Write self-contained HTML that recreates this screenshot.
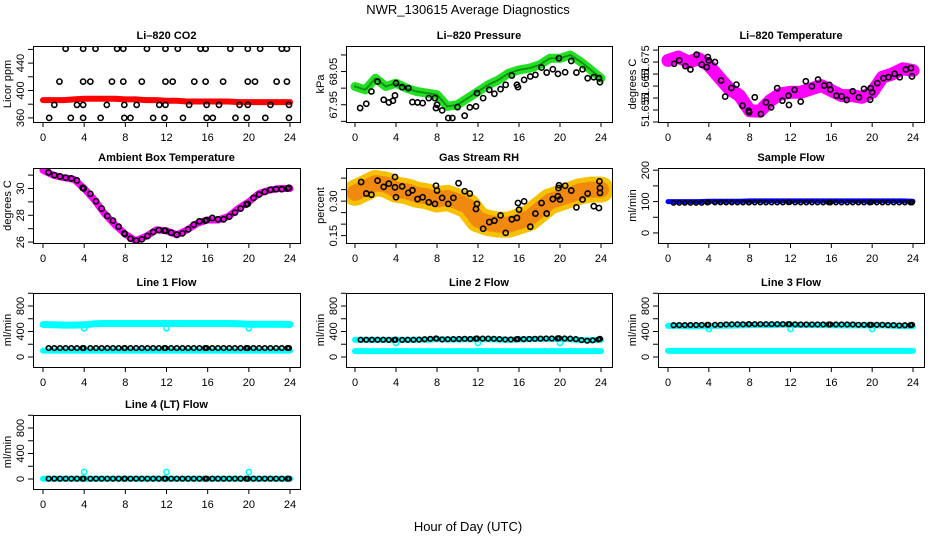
<!DOCTYPE html>
<html><head><meta charset="utf-8"><style>
html,body{margin:0;padding:0;background:#fff}
svg{display:block;font-family:"Liberation Sans",Arial,sans-serif}
</style></head><body>
<svg id="chart" width="936" height="540" viewBox="0 0 936 540" xmlns="http://www.w3.org/2000/svg">
<rect width="936" height="540" fill="#fff"/>
<text x="468" y="14" font-size="13" text-anchor="middle">NWR_130615  Average Diagnostics</text>
<text x="468" y="531" font-size="13" text-anchor="middle">Hour of Day (UTC)</text>
</svg>
<script>
// ---------- data ----------
const hourly = [0,1,2,3,4,5,6,7,8,9,10,11,12,13,14,15,16,17,18,19,20,21,22,23,24];
const co2Red = [386,386,386,387,388,388,388,388,387,387,386,386,385,385,384,384,384,384,384,383,383,383,383,383,383];
const co2Hours = [2.2,3.9,5.1,7.2,7.8,10.1,11.9,13.1,15.3,15.8,18.2,19.9,21.1,23.2,23.7,
 1.6,3.9,4.6,6.7,7.8,9.6,11.9,12.6,14.7,15.8,17.5,19.9,20.6,22.7,23.7,
 1.1,3.3,3.9,6.2,7.9,9.1,11.3,11.9,14.2,15.9,17.1,19.1,19.9,22.1,23.9,
 0.6,2.7,3.9,5.6,7.9,8.5,10.7,11.8,13.6,15.9,16.5,18.7,19.8,21.6,23.9];
const co2Values = [461,461,461,461,461,461,461,461,461,461,461,461,461,461,461,
 413,413,413,413,413,413,413,413,413,413,413,413,413,413,413,
 379,379,379,379,379,379,379,379,379,379,379,379,379,379,379,
 360,360,360,360,360,360,360,360,360,360,360,360,360,360,360];
const presGreen = [68.005,67.995,68.03,68.005,68.015,68.0,67.99,67.985,67.98,67.945,67.95,67.97,67.99,68.01,68.025,68.045,68.055,68.06,68.07,68.09,68.09,68.1,68.08,68.055,68.03];
const presHours = [0.5,1.1,1.6,2.2,2.8,3.3,3.7,3.9,4.0,4.6,5.2,5.6,6.1,6.6,7.2,7.8,7.9,8.0,8.5,9.1,9.5,10.0,10.7,11.2,11.8,11.9,12.5,13.1,13.6,14.2,14.7,15.3,15.8,15.9,16.5,17.1,17.6,18.2,18.7,19.3,19.8,19.9,20.5,21.1,21.6,22.2,22.7,23.3,23.8,23.9];
const presBlack = [67.94,67.953,67.99,68.02,67.965,67.957,67.962,67.978,68.015,68.003,68.0,67.958,67.957,67.955,67.97,67.97,67.94,67.95,67.933,67.91,67.91,67.943,67.917,67.942,67.945,67.985,67.97,67.995,67.983,67.997,68.01,68.038,68.01,68.003,68.025,68.035,68.04,68.062,68.047,68.057,68.043,68.09,68.048,68.082,68.047,68.057,68.03,68.033,68.03,68.018];
const tempMagenta = [51.6757,51.6771,51.675,51.6764,51.6736,51.6687,51.6638,51.661,51.6547,51.6545,51.6589,51.6617,51.6624,51.6624,51.6638,51.6652,51.6631,51.661,51.661,51.6603,51.6624,51.6687,51.6701,51.6722,51.6715];
const tempHours = [0.6,1.1,1.7,2.2,2.8,3.3,3.8,3.9,4.0,4.6,5.2,5.6,6.2,6.7,7.3,7.9,7.95,8.5,9.1,9.6,10.1,10.7,11.2,11.8,11.85,12.4,13.0,13.5,14.1,14.7,15.3,15.8,15.9,16.5,17.0,17.5,18.1,18.7,19.2,19.8,19.85,20.0,20.5,21.1,21.6,22.2,22.7,23.3,23.8,23.9];
const tempBlack = [51.6743,51.6757,51.6733,51.6719,51.6781,51.6739,51.6729,51.6771,51.6757,51.675,51.6673,51.6606,51.6642,51.6656,51.6568,51.6547,51.654,51.6603,51.6533,51.6582,51.6561,51.6641,51.6589,51.661,51.6571,51.6634,51.6585,51.667,51.6649,51.6677,51.6652,51.6655,51.6635,51.661,51.6607,51.6592,51.6628,51.6603,51.6638,51.6593,51.6641,51.6624,51.6662,51.6683,51.6687,51.6701,51.6687,51.6719,51.6725,51.669];
const ambMagenta = [31.36,30.99,30.81,30.69,30.0,29.14,28.10,27.28,26.59,26.10,26.42,26.91,26.84,26.54,26.91,27.41,27.65,27.65,27.90,28.52,29.01,29.63,29.88,30.0,30.0];
const circleHours = [0.55,1.1,1.65,2.2,2.75,3.3,3.85,3.95,4.6,5.15,5.7,6.25,6.8,7.35,7.9,7.95,8.5,9.05,9.6,10.15,10.7,11.25,11.8,11.9,12.45,13,13.55,14.1,14.65,15.2,15.75,15.9,16.45,17,17.55,18.1,18.65,19.2,19.75,19.9,20.45,21,21.55,22.1,22.65,23.2,23.75,23.9];
const ambBlack = [31.2,31.0,30.9,30.8,30.75,30.6,30.05,30.0,29.6,29.05,28.5,27.95,27.6,27.15,26.65,26.6,26.25,26.1,26.2,26.45,26.75,26.9,26.85,26.85,26.7,26.55,26.65,26.95,27.3,27.55,27.6,27.65,27.8,27.7,27.7,27.9,28.2,28.5,28.8,28.85,29.3,29.55,29.75,29.9,29.95,29.95,30.0,30.05];
const rhOrange = [0.336,0.357,0.379,0.372,0.350,0.343,0.328,0.321,0.307,0.314,0.299,0.278,0.220,0.205,0.198,0.198,0.212,0.227,0.263,0.299,0.314,0.328,0.343,0.350,0.350];
const rhHours = [0.6,1.1,1.6,2.2,2.8,3.3,3.9,3.9,4.0,4.6,5.2,5.6,6.1,6.6,7.2,7.8,7.9,8.0,8.5,9.1,9.6,10.1,10.7,11.2,11.8,11.9,12.5,13.1,13.6,14.2,14.7,15.3,15.8,15.9,16.0,16.5,17.1,17.6,18.2,18.7,19.3,19.8,19.85,19.9,20.0,20.5,21.1,21.6,22.2,22.7,23.3,23.8,23.85,23.9,23.9];
const rhBlack = [0.383,0.333,0.328,0.389,0.362,0.376,0.405,0.360,0.317,0.364,0.336,0.347,0.309,0.317,0.295,0.288,0.367,0.346,0.314,0.288,0.314,0.378,0.343,0.333,0.266,0.288,0.180,0.209,0.215,0.238,0.162,0.221,0.227,0.292,0.263,0.299,0.189,0.246,0.292,0.246,0.309,0.321,0.357,0.369,0.307,0.367,0.346,0.273,0.307,0.333,0.278,0.270,0.386,0.336,0.357];
const sampleBlue = [100,100,100,100,101,101,101,101,102,102,102,102,102,102,102,102,102,102,102,102,102,102,102,102,101];
const sampleBlack = [96,96,96,96,96,96,97,98,97,97,97,97,97,97,97,97,97,97,97,97,97,97,98,98,97,97,97,97,97,97,97,97,97,97,97,97,97,97,97,98,97,97,97,97,97,97,97,97];
const line1CyanHigh = [510,505,500,500,505,520,525,525,525,525,525,525,525,525,525,525,525,525,525,520,515,515,515,515,510];
const line1CyanLow = [100,100,100,100,100,100,100,100,100,100,100,100,100,100,100,100,100,100,100,100,100,100,100,100,100];
const line1Black = [140,140,140,140,140,140,140,140,140,140,140,140,140,140,140,140,140,140,140,140,140,140,140,140,140,140,140,140,140,140,140,140,140,140,140,140,140,140,140,140,140,140,140,140,140,140,140,140];
const dipHours = [4,12,20];
const line1Dips = [450,450,450];
const line2CyanHigh = [270,268,268,268,268,268,270,272,280,275,275,278,278,278,275,272,275,280,282,282,280,278,265,262,270];
const line2CyanLow = [92,92,92,92,92,92,92,92,92,92,92,92,92,92,92,92,92,92,92,92,92,92,92,92,92];
const line2Black = [270,270,270,270,270,268,268,272,268,270,270,272,278,285,290,288,275,278,280,282,285,282,288,290,288,288,285,280,275,275,278,282,280,282,285,288,290,290,292,295,290,288,280,265,255,262,275,285];
const line2Dips = [220,220,220];
const line3CyanHigh = [488,488,480,482,485,490,492,495,500,500,500,505,505,500,500,500,498,495,495,495,495,498,490,485,485];
const line3CyanLow = [95,95,95,95,95,95,95,95,95,95,95,95,95,95,95,95,95,95,95,95,95,95,95,95,95];
const line3Black = [498,500,500,502,502,503,505,505,505,505,510,512,512,512,515,515,515,515,515,515,515,515,515,515,512,510,510,510,510,510,510,510,510,510,510,510,505,505,505,505,505,505,500,500,495,498,500,505];
const line3Dips = [440,440,440];
const line4Cyan = [5,5,5,5,5,5,5,5,5,5,5,5,5,5,5,5,5,5,5,5,5,5,5,5,5];
const line4Black = [5,5,5,5,5,5,5,5,5,5,5,5,5,5,5,5,5,5,5,5,5,5,5,5,5,5,5,5,5,5,5,5,5,5,5,5,5,5,5,5,5,5,5,5,5,5,5,5];
const line4Spikes = [110,110,110];
const xTicks = [0,4,8,12,16,20,24];

// ---------- drawing ----------
const NS = 'http://www.w3.org/2000/svg';
const svg = document.getElementById('chart');
function mk(tag, attrs, parent) {
  const e = document.createElementNS(NS, tag);
  for (const k in attrs) e.setAttribute(k, attrs[k]);
  (parent || svg).appendChild(e);
  return e;
}
const cols = [{l:33,r:300,x0:43,x24:290},{l:346,r:612,x0:355,x24:601},{l:658,r:924,x0:668,x24:913}];
const rows = [{t:46,b:122},{t:168,b:243},{t:293,b:367},{t:415,b:489}];

function panel(name, title, ylabel, ci, ri, ymin, ymax, yticks, ylabs) {
  const c = cols[ci], r = rows[ri];
  const g = mk('g', {});
  
  
  const sx = h => c.x0 + h / 24 * (c.x24 - c.x0);
  const sy = v => r.b - (v - ymin) / (ymax - ymin) * (r.b - r.t);
  const cid = 'clip-' + name;
  const cp = mk('clipPath', {id: cid}, g);
  mk('rect', {x: c.l, y: r.t, width: c.r - c.l, height: r.b - r.t}, cp);
  const tt = mk('text', {x: (c.l + c.r) / 2, y: r.t - 7, 'font-size': 11, 'font-weight': 'bold', 'text-anchor': 'middle'}, g);
  
  
  tt.textContent = title;
  const yl = mk('text', {x: 0, y: 0, 'font-size': 11, 'text-anchor': 'middle', transform: `translate(${c.l - 22},${(r.t + r.b) / 2}) rotate(-90)`}, g);
  
  
  yl.textContent = ylabel;
  const ax = mk('g', {stroke: '#000', 'stroke-width': 1}, g);
  
  
  mk('line', {x1: sx(0), x2: sx(24), y1: r.b + 0.5, y2: r.b + 0.5}, ax);
  xTicks.forEach(h => {
    mk('line', {x1: sx(h), x2: sx(h), y1: r.b, y2: r.b + 5}, ax);
    const t = mk('text', {x: sx(h), y: r.b + 19, 'font-size': 11, 'text-anchor': 'middle', stroke: 'none'}, ax);
    
    
    t.textContent = h;
  });
  const ay = mk('g', {stroke: '#000', 'stroke-width': 1}, g);
  
  
  yticks.forEach(v => {
    mk('line', {x1: c.l - 5, x2: c.l, y1: sy(v), y2: sy(v)}, ay);
  });
  ylabs.forEach(v => {
    const t = mk('text', {x: 0, y: 0, 'font-size': 11, 'text-anchor': 'middle', stroke: 'none', transform: `translate(${c.l - 9},${sy(v)}) rotate(-90)`}, ay);
    
    
    t.textContent = v;
  });
  const plot = mk('g', {'clip-path': `url(#${cid})`}, g);
  
  
  const box = mk('rect', {x: c.l + 0.5, y: r.t + 0.5, width: c.r - c.l, height: r.b - r.t, fill: 'none', stroke: '#000'}, g);
  
  
  return {plot, sx, sy};
}
function band(p, hrs, vals, color, w, nm, extra) {
  const pts = hrs.map((h, i) => p.sx(h).toFixed(1) + ',' + p.sy(vals[i]).toFixed(1)).join(' ');
  const at = {points: pts, fill: 'none', stroke: color, 'stroke-width': w, 'stroke-linejoin': 'round', 'stroke-linecap': 'round'};
  if (extra) Object.assign(at, extra);
  const pl = mk('polyline', at, p.plot);
  
  
}
function dots(p, hrs, vals, color, nm, rad) {
  hrs.forEach((h, i) => {
    const ci = mk('circle', {cx: p.sx(h), cy: p.sy(vals[i]), r: rad || 2.6, fill: 'none', stroke: color, 'stroke-width': 1.6}, p.plot);
    
    
  });
}
const flowTicks = [0,200,400,600,800,1000];
const flowLabs = [0,400,800];

let p = panel('co2', 'Li\u2013820 CO2', 'Licor ppm', 0, 0, 354, 465, [360,380,400,420,440,460], [360,400,440]);
band(p, hourly, co2Red, '#ff0000', 6, 'co2-red-series');
dots(p, co2Hours, co2Values, '#000', 'co2-black-point');

p = panel('pressure', 'Li\u2013820 Pressure', 'kPa', 1, 0, 67.898, 68.127, [67.90,67.95,68.00,68.05,68.10], ['67.95','68.05']);
band(p, hourly, presGreen, '#22e022', 9, 'pressure-green-series');
band(p, hourly, presGreen, '#118811', 2, 'pressure-green-core', {'stroke-dasharray': '1 2'});
dots(p, presHours, presBlack, '#000', 'pressure-black-point');

p = panel('li820-temp', 'Li\u2013820 Temperature', 'degrees C', 2, 0, 51.650, 51.6817, [51.650,51.655,51.660,51.665,51.670,51.675,51.680], ['51.655','51.665','51.675']);
band(p, hourly, tempMagenta, '#ff00ff', 13, 'temp-magenta-series');
dots(p, tempHours, tempBlack, '#000', 'temp-black-point');

p = panel('ambient', 'Ambient Box Temperature', 'degrees C', 0, 1, 25.93, 31.53, [26,27,28,29,30,31], [26,28,30]);
band(p, hourly, ambMagenta, '#ff00ff', 7, 'ambient-magenta-series');
dots(p, circleHours, ambBlack, '#000', 'ambient-black-point');

p = panel('rh', 'Gas Stream RH', 'percent', 1, 1, 0.118, 0.444, [0.15,0.20,0.25,0.30,0.35,0.40], ['0.15','0.30']);
band(p, hourly, rhOrange, '#f7c000', 26, 'rh-orange-series');
band(p, hourly, rhOrange, '#ee7a10', 16, 'rh-orange-core', {'stroke-dasharray': '2 2', opacity: 0.8});
dots(p, rhHours, rhBlack, '#000', 'rh-black-point');

p = panel('sample-flow', 'Sample Flow', 'ml/min', 2, 1, -32, 207, [0,50,100,150,200], [0,100,200]);
band(p, hourly, sampleBlue, '#0000ff', 5, 'sample-blue-series');
dots(p, circleHours, sampleBlack, '#000', 'sample-black-point', 2.2);

p = panel('line1', 'Line 1 Flow', 'ml/min', 0, 2, -157, 1004, flowTicks, flowLabs);
band(p, hourly, line1CyanHigh, '#00ffff', 7, 'line1-cyan-high');
band(p, hourly, line1CyanLow, '#00ffff', 6, 'line1-cyan-low');
dots(p, dipHours, line1Dips, '#00ffff', 'line1-cyan-dip');
dots(p, circleHours, line1Black, '#000', 'line1-black-point', 2.3);

p = panel('line2', 'Line 2 Flow', 'ml/min', 1, 2, -157, 1004, flowTicks, flowLabs);
band(p, hourly, line2CyanHigh, '#00ffff', 6, 'line2-cyan-high');
band(p, hourly, line2CyanLow, '#00ffff', 6, 'line2-cyan-low');
dots(p, dipHours, line2Dips, '#00ffff', 'line2-cyan-dip');
dots(p, circleHours, line2Black, '#000', 'line2-black-point', 2.3);

p = panel('line3', 'Line 3 Flow', 'ml/min', 2, 2, -157, 1004, flowTicks, flowLabs);
band(p, hourly, line3CyanHigh, '#00ffff', 6, 'line3-cyan-high');
band(p, hourly, line3CyanLow, '#00ffff', 6, 'line3-cyan-low');
dots(p, dipHours, line3Dips, '#00ffff', 'line3-cyan-dip');
dots(p, circleHours, line3Black, '#000', 'line3-black-point', 2.3);

p = panel('line4', 'Line 4 (LT) Flow', 'ml/min', 0, 3, -157, 1004, flowTicks, flowLabs);
band(p, hourly, line4Cyan, '#00ffff', 6, 'line4-cyan-series');
dots(p, dipHours, line4Spikes, '#00ffff', 'line4-cyan-spike');
dots(p, circleHours, line4Black, '#000', 'line4-black-point', 2.3);
</script>
</body></html>
